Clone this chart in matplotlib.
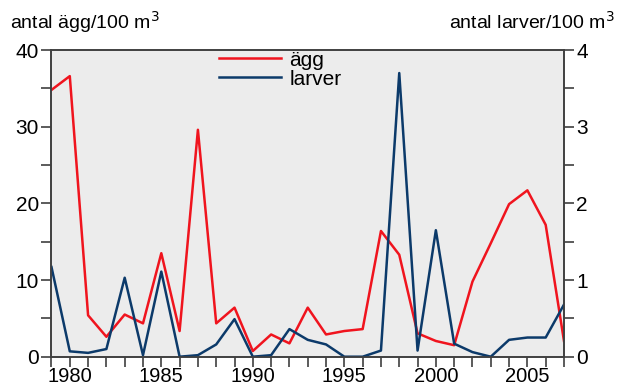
import matplotlib.pyplot as plt
from matplotlib.ticker import MultipleLocator

plt.rcParams['font.family'] = ['Liberation Sans', 'DejaVu Sans']

years = list(range(1979, 2008))
agg = [34.8, 36.6, 5.4, 2.6, 5.5, 4.35, 13.5, 3.35, 29.6, 4.35,
       6.4, 0.74, 2.9, 1.74, 6.4, 2.9, 3.35, 3.6, 16.4, 13.3,
       3.05, 2.05, 1.5, 9.8, 14.8, 19.9, 21.7, 17.2, 2.05]
larver = [1.17, 0.07, 0.05, 0.1, 1.03, 0.02, 1.11, 0.0, 0.02, 0.16,
          0.49, 0.0, 0.02, 0.36, 0.22, 0.16, 0.0, 0.0, 0.08, 3.7,
          0.08, 1.65, 0.17, 0.06, 0.0, 0.22, 0.25, 0.25, 0.68]

red = '#f0141e'
blue = '#0c3a6a'
spine_col = '#404040'

fig = plt.figure(figsize=(6.18, 3.85), dpi=100)
ax = fig.add_axes([0.0833, 0.0735, 0.8293, 0.7965])
ax2 = ax.twinx()

l1, = ax.plot(years, agg, color=red, lw=1.8, label='ägg')
l2, = ax2.plot(years, larver, color=blue, lw=1.8, label='larver')

ax.set_facecolor('#ececec')
ax.set_xlim(1979, 2007)
ax.set_ylim(0, 40)
ax2.set_ylim(0, 4)

ax.xaxis.set_major_locator(MultipleLocator(5))
ax.xaxis.set_minor_locator(MultipleLocator(1))
ax.yaxis.set_major_locator(MultipleLocator(10))
ax.yaxis.set_minor_locator(MultipleLocator(5))
ax2.yaxis.set_major_locator(MultipleLocator(1))
ax2.yaxis.set_minor_locator(MultipleLocator(0.5))

for a in (ax, ax2):
    for s in a.spines.values():
        s.set_color(spine_col)
        s.set_linewidth(1.2)
    a.tick_params(which='both', direction='out', length=7, width=1.2,
                  color=spine_col, labelsize=15, pad=2)
ax.tick_params(axis='x', labelsize=14.5, pad=0.5)

ax.set_xticks(range(1980, 2006, 5))
ax.set_xticklabels([str(y) for y in range(1980, 2006, 5)])

fig.text(0.016, 0.925, 'antal ägg/100 m$^3$', fontsize=14, ha='left', va='baseline')
fig.text(0.995, 0.925, 'antal larver/100 m$^3$', fontsize=14, ha='right', va='baseline')

ax2.legend(handles=[l1, l2], loc='upper left', bbox_to_anchor=(0.31, 1.025),
           frameon=False, fontsize=15, handlelength=3.0, handletextpad=0.4,
           labelspacing=0.0, borderaxespad=0)

fig.savefig('out.png', dpi=100)
